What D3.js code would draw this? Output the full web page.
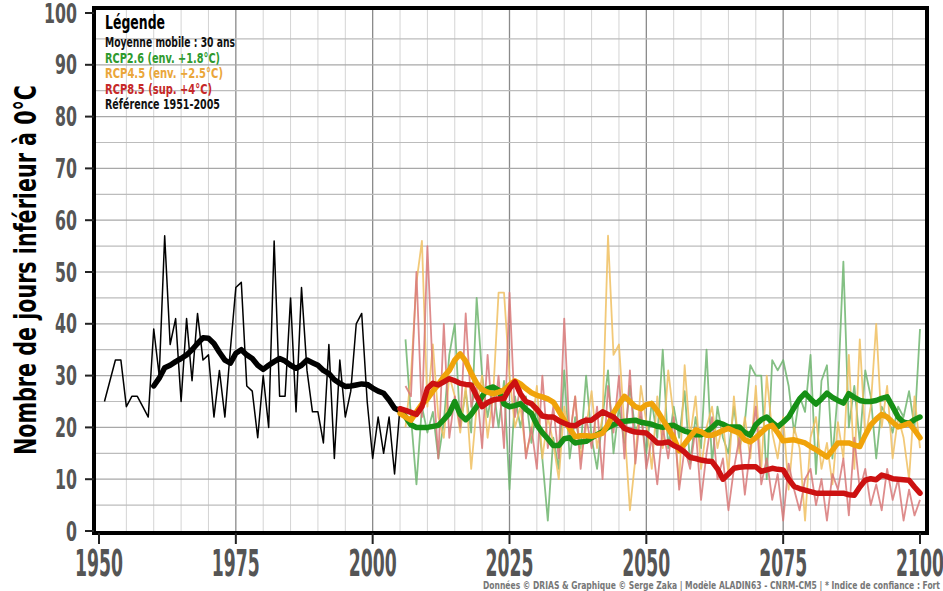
<!DOCTYPE html>
<html>
<head>
<meta charset="utf-8">
<script src="https://cdn.jsdelivr.net/npm/d3@7/dist/d3.min.js"></script>
<style>
  body { margin: 0; background: #fff; }
  svg { display: block; }
  text { font-family: "Liberation Sans Narrow", "DejaVu Sans Condensed", "DejaVu Sans", sans-serif; font-weight: bold; }
</style>
</head>
<body>
<div id="chart"></div>
<script>
// 1. DATA - number of days below 0°C
//------------------------------------------------------------
const obsStart = 1951;
const obsValues = [25, 29, 33, 33, 24, 26, 26, 24, 22, 39,
  30, 57, 36, 41, 25, 41, 29, 42, 33, 34,
  22, 31, 22, 35, 47, 48, 28, 27, 18, 30,
  20, 56, 26, 26, 45, 23, 47, 31, 23, 23,
  17, 36, 14, 33, 22, 27, 40, 42, 25, 14,
  22, 15, 22, 11, 24];

const obsMaStart = 1960;
const obsMa = [28, 29.5, 31.5, 32, 32.7, 33.3, 34, 35, 36.2, 37.3,
  37.2, 36.2, 34.5, 33, 32.4, 34.3, 35, 34, 33.3, 32,
  31.2, 32, 32.7, 33.3, 32.8, 32, 31.4, 32, 33, 32.5,
  32, 31, 30.4, 29.2, 28.5, 27.9, 28, 28.2, 28.4, 28.3,
  27.6, 27, 26.6, 25.3, 23.7, 23.2];

const scenStart = 2006;
const rcp26Values = [37, 22, 9, 24, 19, 23, 14, 21, 34, 40,
  20, 27, 19, 45, 30, 22, 28, 20, 29, 8,
  26, 20, 26, 17, 24, 14, 2, 18, 12, 31,
  14, 22, 16, 30, 18, 12, 22, 31, 15, 24,
  17, 28, 19, 22, 15, 25, 18, 35, 16, 24,
  18, 27, 13, 22, 16, 35, 13, 24, 18, 15,
  24, 16, 21, 32, 30, 30, 10, 33, 31, 33,
  28, 19, 26, 23, 34, 11, 29, 32, 14, 27,
  52, 20, 28, 17, 31, 26, 14, 24, 22, 19,
  24, 22, 27, 20, 39];
const rcp45Values = [20, 30, 48, 56, 24, 36, 22, 18, 30, 26,
  19, 28, 12, 24, 30, 18, 26, 46, 46, 30,
  20, 24, 15, 19, 28, 14, 22, 17, 10, 24,
  18, 26, 14, 20, 27, 16, 22, 57, 34, 36,
  20, 4, 14, 28, 21, 12, 26, 16, 31, 22,
  9, 32, 18, 26, 12, 20, 24, 16, 21, 11,
  26, 15, 22, 14, 28, 12, 30, 19, 14, 22,
  8, 20, 16, 2, 18, 22, 12, 17, 9, 21,
  14, 34, 12, 37, 18, 24, 40, 20, 28, 14,
  22, 18, 10, 26, 16];
const rcp85Values = [28, 26, 50, 22, 55, 30, 14, 40, 18, 26,
  20, 42, 24, 28, 16, 34, 20, 30, 16, 46,
  22, 28, 14, 20, 12, 30, 16, 24, 14, 41,
  18, 26, 12, 22, 16, 24, 10, 28, 19, 30,
  14, 31, 13, 24, 12, 18, 9, 20, 14, 22,
  8, 16, 12, 20, 6, 15, 22, 10, 14, 4,
  12, 18, 7, 16, 24, 9, 14, 6, 11, 2,
  13, 8, 4, 10, 12, 5, 10, 2, 11, 8,
  14, 3, 18, 8, 12, 5, 9, 4, 12, 6,
  10, 2, 8, 3, 6];

const scenMaStart = 2005;
const rcp26Ma = [23.5, 22, 20.5, 20, 20, 20, 20.2, 20.4, 21.5, 22.7,
  25, 22.5, 21.5, 22.5, 24, 26, 27.5, 27.8, 27.2, 24.5,
  24, 24.2, 24.6, 23.5, 22.7, 20.5, 19, 17.8, 16.5, 16.5,
  17.8, 18, 17, 17.2, 17.3, 18, 18.6, 19.2, 20, 20.5,
  21, 21.2, 21.3, 21.4, 21, 20.8, 20.6, 20.2, 20, 20.3,
  20.4, 19.8, 19.3, 19, 18.6, 18.6, 19.1, 20, 21, 20.6,
  20.1, 20.1, 20.1, 19, 18.5, 20.5, 21.5, 22, 21, 20.1,
  21, 22, 23.8, 25.5, 26.6, 25.5, 24.5, 25.5, 26.6, 25.8,
  25.2, 24.7, 26.5, 25.8, 25.2, 25, 25, 25.2, 25.6, 25.9,
  24, 22, 21, 20.8, 21.5, 22];
const rcp45Ma = [22.7, 22, 21.4, 23, 24.5, 25.5, 27, 28.3, 29.8, 31,
  33, 34.2, 32.8, 30.5, 28.5, 27.3, 26.8, 26.5, 26.8, 27.2,
  28.2, 29, 28.4, 27.5, 26.7, 26.2, 25.9, 25.5, 24.9, 23.2,
  21.4, 19.8, 18.2, 18.4, 18.4, 18.3, 18.5, 18.9, 20.5, 22.8,
  24.5, 26, 25, 24, 23.6, 24.4, 24.6, 23.2, 21.5, 19.8,
  18, 15.5, 16.8, 18.2, 19.5, 19.2, 18.5, 18.5, 18.9, 19.4,
  19.8, 19.3, 18.9, 17.6, 17.2, 18, 19, 20, 20.4, 19,
  17.4, 17.5, 17.6, 17.3, 17, 16.3, 15.7, 15, 14.3, 15.6,
  17, 17, 17, 16.6, 16.3, 18.5, 20.5, 21.6, 22.5, 22,
  21, 20.1, 20.4, 20.8, 19.5, 18];
const rcp85Ma = [23.6, 23.3, 22.9, 22.5, 24, 27.5, 28.5, 28.2, 28.8, 29.4,
  29, 28.5, 28.3, 28.2, 26, 24, 24.8, 25.3, 25.5, 25.6,
  27.5, 28.8, 26.5, 25, 24.6, 23.5, 22.2, 22, 22, 21.3,
  20.8, 20.4, 20.3, 21, 21.4, 21.4, 22.2, 23, 22.5, 22,
  21, 19.8, 19.4, 19.1, 19, 18.9, 18, 17, 17, 17.2,
  16.5, 16, 15.2, 14.2, 14, 13.7, 13.5, 13.4, 12, 10,
  11, 12.1, 12.3, 12.4, 12.4, 12.4, 11.5, 11.8, 12.1, 11.9,
  11.8, 10, 8.6, 8.2, 7.9, 7.6, 7.3, 7.3, 7.3, 7.3,
  7.3, 7.3, 7, 6.9, 8.5, 9.8, 10.1, 9.9, 10.8, 10.5,
  10.1, 10, 9.9, 9.8, 8.5, 7.3];

const xTicks = [1950, 1975, 2000, 2025, 2050, 2075, 2100];
const yTicks = [0, 10, 20, 30, 40, 50, 60, 70, 80, 90, 100];

const legendItems = [
  {label: "Moyenne mobile : 30 ans", color: "#111", w: 130},
  {label: "RCP2.6 (env. +1.8°C)", color: "#2e9a2e", w: 115},
  {label: "RCP4.5 (env. +2.5°C)", color: "#eaa63a", w: 118},
  {label: "RCP8.5 (sup. +4°C)", color: "#c62828", w: 107},
  {label: "Référence 1951-2005", color: "#111", w: 115}
];

// 2. SVG + frame
//------------------------------------------------------------
const svgWidth = 943;
const svgHeight = 591;
const frame = {left: 94, right: 927, top: 8, bottom: 533};

const svg = d3.select("#chart")
  .append("svg")
  .attr("width", svgWidth)
  .attr("height", svgHeight);

svg.append("rect")
  .attr("width", svgWidth)
  .attr("height", svgHeight)
  .attr("fill", "#fff");

const xScale = d3.scaleLinear().domain([1950, 2100]).range([99, 920]);
const yScale = d3.scaleLinear().domain([0, 100]).range([531, 13]);

const toPts = (start, vals) => vals.map((v, i) => ({year: start + i, value: v}));

// 3. Gridlines
//------------------------------------------------------------
const grid = svg.append("g");
grid.selectAll(".vgrid")
  .data(d3.range(1955, 2100, 5))
  .enter()
  .append("line")
  .attr("x1", d => xScale(d)).attr("x2", d => xScale(d))
  .attr("y1", frame.top).attr("y2", frame.bottom)
  .attr("stroke", d => d % 25 === 0 ? "#8a8a8a" : "#d4d4d4")
  .attr("stroke-width", d => d % 25 === 0 ? 1.3 : 1);

grid.selectAll(".hgrid")
  .data(d3.range(5, 100, 5))
  .enter()
  .append("line")
  .attr("x1", frame.left).attr("x2", frame.right)
  .attr("y1", d => yScale(d)).attr("y2", d => yScale(d))
  .attr("stroke", d => d % 10 === 0 ? "#a8a8a8" : "#bcbcbc")
  .attr("stroke-width", 1.2);

// 4. Lines
//------------------------------------------------------------
const line = d3.line()
  .x(d => xScale(d.year))
  .y(d => yScale(d.value));

const plot = svg.append("g");

const thinSeries = [
  {pts: toPts(obsStart, obsValues), color: "#000", w: 1.5, op: 1},
  {pts: toPts(scenStart, rcp26Values), color: "#6fb56f", w: 1.8, op: 0.85},
  {pts: toPts(scenStart, rcp45Values), color: "#f0c060", w: 1.8, op: 0.85},
  {pts: toPts(scenStart, rcp85Values), color: "#d87878", w: 1.8, op: 0.85}
];
const thickSeries = [
  {pts: toPts(obsMaStart, obsMa), color: "#000"},
  {pts: toPts(scenMaStart, rcp26Ma), color: "#169016"},
  {pts: toPts(scenMaStart, rcp45Ma), color: "#f0a30a"},
  {pts: toPts(scenMaStart, rcp85Ma), color: "#cc1111"}
];

thinSeries.forEach(s => {
  plot.append("path")
    .datum(s.pts)
    .attr("d", line)
    .attr("fill", "none")
    .attr("stroke", s.color)
    .attr("stroke-width", s.w)
    .attr("stroke-opacity", s.op)
    .attr("stroke-linejoin", "round");
});
thickSeries.forEach(s => {
  plot.append("path")
    .datum(s.pts)
    .attr("d", line)
    .attr("fill", "none")
    .attr("stroke", s.color)
    .attr("stroke-width", 5.5)
    .attr("stroke-linejoin", "round")
    .attr("stroke-linecap", "round");
});

// 5. Frame, ticks and labels
//------------------------------------------------------------
svg.append("rect")
  .attr("x", frame.left).attr("y", frame.top)
  .attr("width", frame.right - frame.left)
  .attr("height", frame.bottom - frame.top)
  .attr("fill", "none")
  .attr("stroke", "#000")
  .attr("stroke-width", 4);

svg.selectAll(".ytick")
  .data(yTicks)
  .enter()
  .append("line")
  .attr("x1", frame.left - 9).attr("x2", frame.left)
  .attr("y1", d => yScale(d)).attr("y2", d => yScale(d))
  .attr("stroke", "#222").attr("stroke-width", 2);

svg.selectAll(".ylab")
  .data(yTicks)
  .enter()
  .append("text")
  .attr("x", 77)
  .attr("y", d => yScale(d) + 9.5)
  .attr("text-anchor", "end")
  .attr("font-size", 27)
  .attr("fill", "#555")
  .attr("textLength", d => String(d).length * 11)
  .attr("lengthAdjust", "spacingAndGlyphs")
  .text(d => d);

svg.selectAll(".xtick")
  .data(xTicks)
  .enter()
  .append("line")
  .attr("x1", d => xScale(d)).attr("x2", d => xScale(d))
  .attr("y1", frame.bottom).attr("y2", frame.bottom + 11)
  .attr("stroke", "#222").attr("stroke-width", 2);

svg.selectAll(".xlab")
  .data(xTicks)
  .enter()
  .append("text")
  .attr("x", d => xScale(d))
  .attr("y", 576)
  .attr("text-anchor", "middle")
  .attr("font-size", 37)
  .attr("fill", "#555")
  .attr("textLength", 48)
  .attr("lengthAdjust", "spacingAndGlyphs")
  .text(d => d);

// y axis title
svg.append("text")
  .attr("transform", "translate(36, 270) rotate(-90)")
  .attr("text-anchor", "middle")
  .attr("font-size", 30)
  .attr("fill", "#000")
  .attr("textLength", 370)
  .attr("lengthAdjust", "spacingAndGlyphs")
  .text("Nombre de jours inférieur à 0°C");

// 6. Legend
//------------------------------------------------------------
const legend = svg.append("g").attr("transform", "translate(105, 0)");
legend.append("text")
  .attr("y", 29)
  .attr("font-size", 19)
  .attr("fill", "#000")
  .attr("textLength", 60)
  .attr("lengthAdjust", "spacingAndGlyphs")
  .text("Légende");
legend.selectAll(".leg")
  .data(legendItems)
  .enter()
  .append("text")
  .attr("y", (d, i) => 47 + i * 15.6)
  .attr("font-size", 14)
  .attr("fill", d => d.color)
  .attr("textLength", d => d.w)
  .attr("lengthAdjust", "spacingAndGlyphs")
  .text(d => d.label);

// footer credit
svg.append("text")
  .attr("x", 940)
  .attr("y", 589)
  .attr("text-anchor", "end")
  .attr("font-size", 10.5)
  .attr("font-weight", "normal")
  .attr("fill", "#777")
  .attr("textLength", 457)
  .attr("lengthAdjust", "spacingAndGlyphs")
  .text("Données © DRIAS & Graphique © Serge Zaka | Modèle ALADIN63 - CNRM-CM5 | * Indice de confiance : Fort");
</script>
</body>
</html>
